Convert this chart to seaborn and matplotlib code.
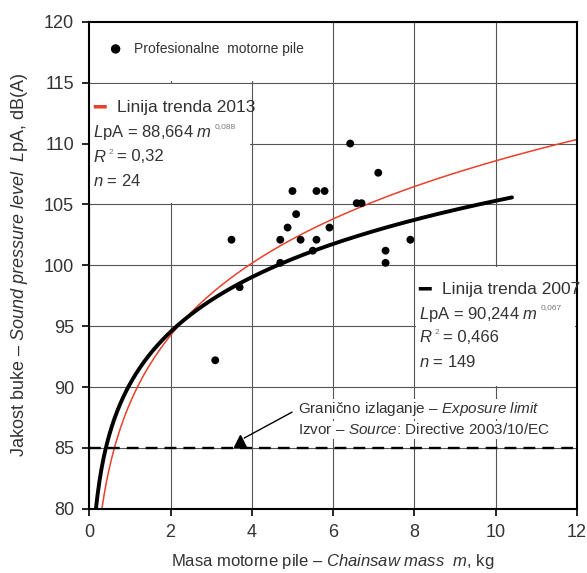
import numpy as np
import pandas as pd
import seaborn as sns
import matplotlib.pyplot as plt
from matplotlib.patches import Rectangle

# measured chainsaws (mass kg, LpA dB(A))
mass = [3.1, 3.5, 3.7, 4.7, 4.7, 4.88, 5.0, 5.09, 5.2, 5.5, 5.59, 5.59,
        5.79, 5.91, 6.42, 6.58, 6.7, 7.11, 7.29, 7.29, 7.9]
lpa = [92.2, 102.1, 98.2, 100.2, 102.1, 103.1, 106.1, 104.2, 102.1, 101.2,
       106.1, 102.1, 106.1, 103.1, 110.0, 105.1, 105.1, 107.6, 101.2, 100.2, 102.1]

# trend lines LpA = a * m^b, as printed on the chart
trend_2013 = (88.664, 0.088)
trend_2007 = (90.244, 0.067)
m_2013 = (0.25, 12.0)
m_2007 = (0.15, 10.4)
limit = 85

xticks = [0, 2, 4, 6, 8, 10, 12]
yticks = [80, 85, 90, 95, 100, 105, 110, 115, 120]

sns.set_style("white")
fam = "Liberation Sans"
plt.rcParams["font.family"] = [fam, "DejaVu Sans"]
plt.rcParams["mathtext.fontset"] = "custom"
plt.rcParams["mathtext.rm"] = fam
plt.rcParams["mathtext.it"] = fam + ":italic"

fig = plt.figure(figsize=(5.87, 5.73), dpi=100)
ax = fig.add_axes([0.152, 0.112, 0.831, 0.850])

m1 = np.linspace(*m_2013, 400)
m2 = np.linspace(*m_2007, 400)
df1 = pd.DataFrame({"m": m1, "L": trend_2013[0] * m1 ** trend_2013[1]})
df2 = pd.DataFrame({"m": m2, "L": trend_2007[0] * m2 ** trend_2007[1]})
sns.lineplot(data=df1, x="m", y="L", color="#e8412b", lw=1.1, ax=ax, zorder=2)
sns.lineplot(data=df2, x="m", y="L", color="black", lw=2.8, ax=ax, zorder=2)
ax.axhline(limit, color="black", lw=1.7, dashes=(5, 3), zorder=2)

pts = pd.DataFrame({"m": mass, "L": lpa})
sns.scatterplot(data=pts, x="m", y="L", color="black", s=32, edgecolor="none",
                ax=ax, zorder=3, label="Profesionalne  motorne pile")

ax.set_xlim(0, 12)
ax.set_ylim(80, 120)
ax.set_xticks(xticks)
ax.set_yticks(yticks)
ax.set_axisbelow(True)
ax.grid(True, color="#555555", lw=0.8)
for s in ax.spines.values():
    s.set_color("black")
    s.set_linewidth(1.5)
ax.tick_params(axis="both", direction="out", length=5, width=1.2, color="black",
               labelsize=13, labelcolor="#333333", left=True, bottom=True, pad=6)

# white boxes behind the text blocks
for (x0, y0, w, h) in [(0, 115.1, 5.95, 5), (0, 105.1, 3.95, 9.8), (8.05, 90.1, 3.9, 9.8)]:
    ax.add_patch(Rectangle((x0, y0), w, h, facecolor="white", edgecolor="none", zorder=1))

leg = ax.legend(loc="upper left", bbox_to_anchor=(0.0, 0.985), frameon=False,
                fontsize=10, handletextpad=0.3, markerscale=1.2)
for t in leg.get_texts():
    t.set_color("#333333")

tc = "#333333"
fs = 12


def sup(t, s, after=None):
    ax.annotate(s, xy=(1, 1), xycoords=t, xytext=(1.5, 0), textcoords="offset points",
                fontsize=6, color="#777777", ha="left", va="top")
    if after:
        ax.annotate(after, xy=(1, 0.5), xycoords=t, xytext=(7, 0), textcoords="offset points",
                    fontsize=fs, color=tc, ha="left", va="center")


ax.text(0.1, 112.95, "━", color="#e8412b", fontsize=15, va="center", family="DejaVu Sans")
ax.text(0.69, 112.95, "Linija trenda 2013", color=tc, fontsize=12.5, va="center")
t = ax.text(0.1, 110.9, r"$\mathit{L}$pA = 88,664 $\mathit{m}$", color=tc, fontsize=fs, va="center")
sup(t, "0,088")
t = ax.text(0.1, 108.9, r"$\mathit{R}$", color=tc, fontsize=fs, va="center")
sup(t, "2", "= 0,32")
ax.text(0.1, 106.9, r"$\mathit{n}$ = 24", color=tc, fontsize=fs, va="center")

ax.text(8.1, 98.0, "━", color="black", fontsize=15, va="center", family="DejaVu Sans")
ax.text(8.67, 98.0, "Linija trenda 2007", color=tc, fontsize=12.5, va="center")
t = ax.text(8.12, 96.0, r"$\mathit{L}$pA = 90,244 $\mathit{m}$", color=tc, fontsize=fs, va="center")
sup(t, "0,067")
t = ax.text(8.12, 94.1, r"$\mathit{R}$", color=tc, fontsize=fs, va="center")
sup(t, "2", "= 0,466")
ax.text(8.12, 92.05, r"$\mathit{n}$ = 149", color=tc, fontsize=fs, va="center")

ax.text(5.14, 88.2, r"Granično izlaganje – $\mathit{Exposure\ limit}$", color=tc,
        fontsize=11, va="center", bbox=dict(facecolor="white", edgecolor="none", pad=1))
ax.text(5.14, 86.5, r"Izvor – $\mathit{Source}$: Directive 2003/10/EC", color=tc,
        fontsize=11, va="center", bbox=dict(facecolor="white", edgecolor="none", pad=1))
ax.annotate("", xy=(3.75, 85.7), xytext=(5.05, 88.05),
            arrowprops=dict(arrowstyle="-", color="black", lw=1.0), zorder=3)
ax.plot([3.7], [85.55], marker="^", color="black", ms=8, zorder=3)

ax.set_xlabel(r"Masa motorne pile – $\mathit{Chainsaw\ mass\ \ m}$, kg", fontsize=12,
              color=tc, labelpad=8)
ax.set_ylabel(r"Jakost buke – $\mathit{Sound\ pressure\ level\ \ L}$pA, dB(A)", fontsize=13,
              color=tc, labelpad=10)

fig.savefig("out.png", dpi=100)
